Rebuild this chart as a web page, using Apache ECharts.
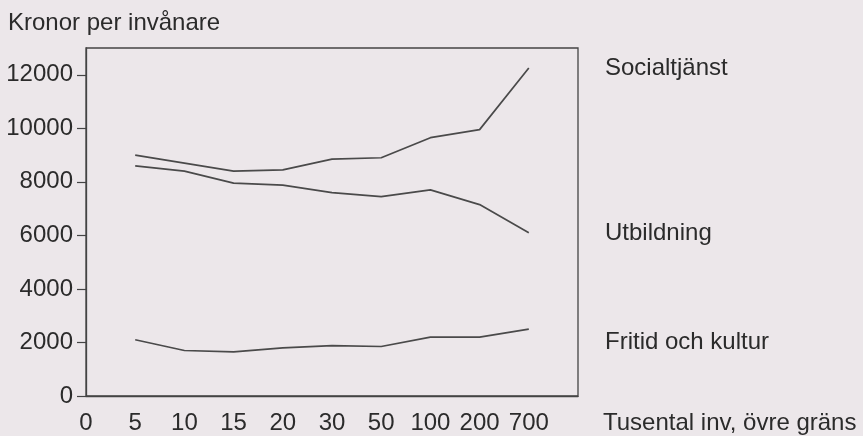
<!DOCTYPE html>
<html lang="sv">
<head>
<meta charset="UTF-8">
<title>Kronor per invånare</title>
<script src="https://cdn.jsdelivr.net/npm/echarts@6/dist/echarts.min.js"></script>
<style>
  html, body { margin: 0; padding: 0; background: #ece7ea; }
  #chart { width: 863px; height: 436px; }
</style>
</head>
<body>
<div id="chart"></div>
<script>
    // kommunstorlek (tusental inv, övre gräns); sista platsen är tom
    var sizes = ['0', '5', '10', '15', '20', '30', '50', '100', '200', '700', ''];
    var socialtjanst = ['-', 9000, 8700, 8400, 8450, 8850, 8900, 9650, 9950, 12250, '-'];
    var utbildning  = ['-', 8600, 8400, 7950, 7880, 7600, 7450, 7700, 7150, 6100, '-'];
    var fritid      = ['-', 2100, 1700, 1650, 1800, 1880, 1850, 2200, 2200, 2500, '-'];
    var yTicks = [0, 2000, 4000, 6000, 8000, 10000, 12000];

    var font = '"Liberation Sans", Arial, Helvetica, sans-serif';
    var txt = '#2b2b2b';
    var lineCol = '#4a4a4a';

    var chart = echarts.init(document.getElementById('chart'));

    function serie(name, data) {
        return {
            name: name,
            type: 'line',
            data: data,
            symbol: 'none',
            lineStyle: { color: lineCol, width: 1.7 },
            silent: true
        };
    }

    var option = {
        backgroundColor: '#ece7ea',
        animation: false,
        grid: {
            left: 86, right: 285, top: 48, bottom: 40,
            show: true, borderColor: '#444', borderWidth: 1.3, backgroundColor: 'transparent'
        },
        xAxis: {
            type: 'category',
            data: sizes,
            boundaryGap: false,
            axisLine: { lineStyle: { color: '#444', width: 1.3 } },
            axisTick: { show: false },
            axisLabel: { color: txt, fontSize: 24, fontFamily: font, margin: 15, interval: 0 },
            splitLine: { show: false }
        },
        yAxis: {
            type: 'value',
            min: 0,
            max: 13000,
            axisLine: { show: true, lineStyle: { color: '#444', width: 1.3 } },
            axisTick: { show: true, length: 9, customValues: yTicks, lineStyle: { color: '#444', width: 1.2 } },
            axisLabel: {
                color: txt, fontSize: 24, fontFamily: font, margin: 13, customValues: yTicks,
                formatter: function (v) { return String(v); }
            },
            splitLine: { show: false }
        },
        graphic: [
            { type: 'text', left: 8, top: 11, style: { text: 'Kronor per invånare', fill: txt, font: '24px ' + font } },
            { type: 'text', left: 605, top: 56, style: { text: 'Socialtjänst', fill: txt, font: '24px ' + font } },
            { type: 'text', left: 605, top: 221, style: { text: 'Utbildning', fill: txt, font: '24px ' + font } },
            { type: 'text', left: 605, top: 330, style: { text: 'Fritid och kultur', fill: txt, font: '24px ' + font } },
            { type: 'text', left: 603, top: 411, style: { text: 'Tusental inv, övre gräns', fill: txt, font: '24px ' + font } }
        ],
        series: [
            serie('Socialtjänst', socialtjanst),
            serie('Utbildning', utbildning),
            serie('Fritid och kultur', fritid)
        ]
    };

    chart.setOption(option);
</script>
</body>
</html>
